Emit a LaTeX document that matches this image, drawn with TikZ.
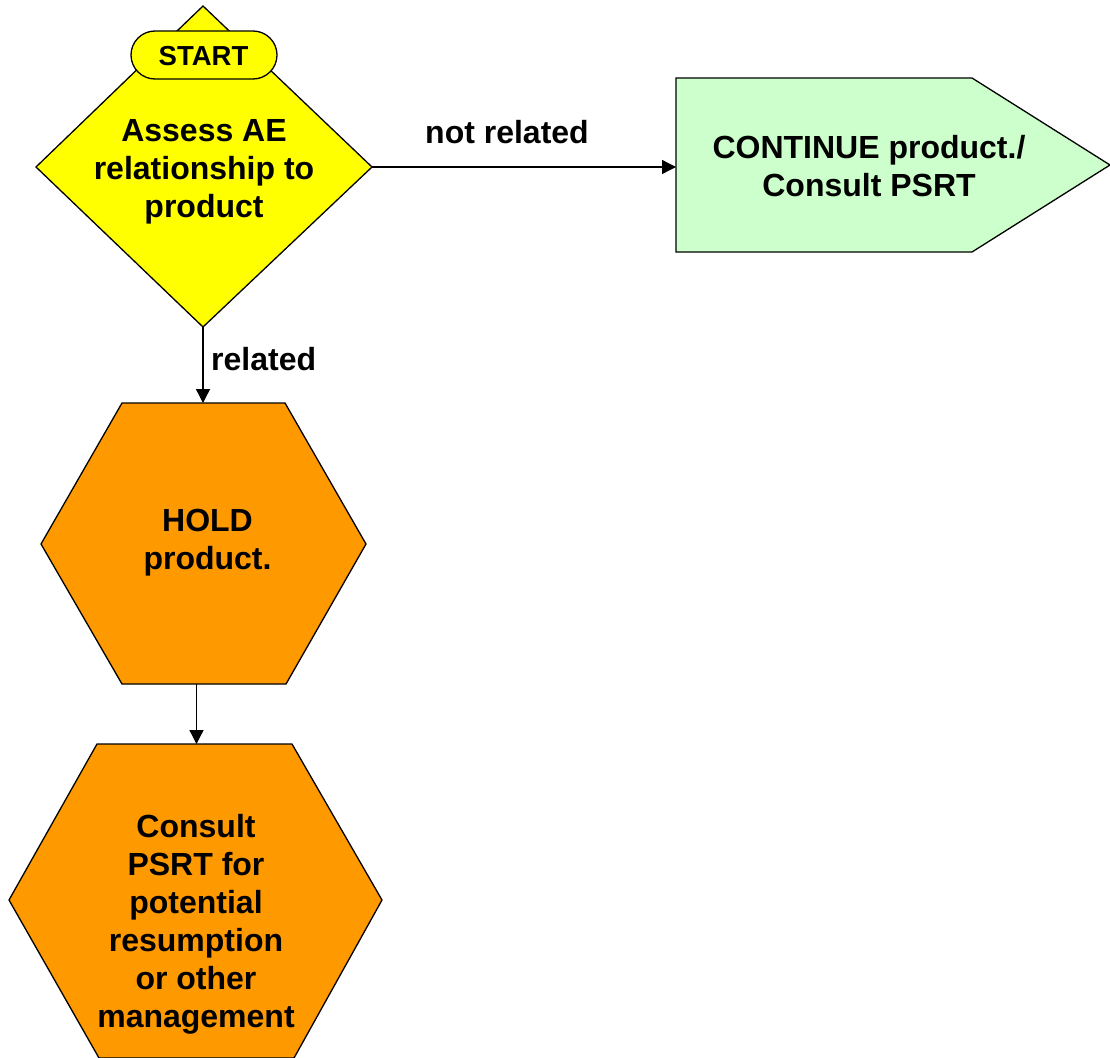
\documentclass[tikz,border=0pt]{standalone}
\usepackage{fontspec}
\setmainfont{Liberation Sans}
\usetikzlibrary{arrows.meta}
\definecolor{dyellow}{HTML}{FFFF00}
\definecolor{dgreen}{HTML}{CCFFCC}
\definecolor{dorange}{HTML}{FF9900}
\tikzset{
  shapeline/.style={draw=black, line width=1.3pt, line join=miter},
  arr/.style={draw=black, line width=1.3pt, -{Triangle[length=14pt,width=14pt]}},
  txt/.style={font=\fontsize{32}{38}\selectfont\bfseries, align=center, inner sep=0pt},
  lbl/.style={font=\fontsize{32}{38}\selectfont\bfseries, inner sep=0pt},
  pill/.style={draw=black, line width=1.3pt, fill=dyellow, rounded corners=24pt,
    minimum width=146pt, minimum height=48pt, inner sep=0pt}
}
\begin{document}
\begin{tikzpicture}[x=1pt,y=-1pt]
\useasboundingbox (0,0) rectangle (1110,1057);
\clip (0,0) rectangle (1110,1057);
\fill[white] (0,0) rectangle (1110,1057);
% diamond
\coordinate (dT) at (203,6);
\coordinate (dR) at (372,167);
\coordinate (dB) at (203,327);
\coordinate (dL) at (36,167);
\filldraw[shapeline, fill=dyellow] (dT) -- (dR) -- (dB) -- (dL) -- cycle;
\node[txt] (assess) at (204,171.5) {Assess AE\\relationship to\\product};
\node[pill] (start) at (204,55) {};
\node[font=\fontsize{27.5}{30}\selectfont\bfseries, inner sep=0pt, anchor=base] (starttxt) at (203.5,65) {START};
% pentagon
\coordinate (pL) at (676,167);
\coordinate (p1) at (676,78);
\coordinate (p2) at (972,78);
\coordinate (p3) at (1110,165);
\coordinate (p4) at (972,252);
\coordinate (p5) at (676,252);
\filldraw[shapeline, fill=dgreen] (p1) -- (p2) -- (p3) -- (p4) -- (p5) -- cycle;
\node[txt] (cont) at (869,166) {CONTINUE product./\\Consult PSRT};
% hexagon 1
\coordinate (h1a) at (122,403);
\coordinate (h1b) at (285,403);
\coordinate (h1c) at (366,544);
\coordinate (h1d) at (286,684);
\coordinate (h1e) at (122,684);
\coordinate (h1f) at (41,544);
\coordinate (h1top) at (203,403);
\coordinate (h1bot) at (196.5,684);
\filldraw[shapeline, fill=dorange] (h1a) -- (h1b) -- (h1c) -- (h1d) -- (h1e) -- (h1f) -- cycle;
\node[txt] (hold) at (207.5,543) {HOLD\\product.};
% hexagon 2
\coordinate (h2a) at (97,744);
\coordinate (h2b) at (292,744);
\coordinate (h2c) at (382,900);
\coordinate (h2d) at (294,1058);
\coordinate (h2e) at (99,1058);
\coordinate (h2f) at (9,900);
\coordinate (h2top) at (196.5,744);
\filldraw[shapeline, fill=dorange] (h2a) -- (h2b) -- (h2c) -- (h2d) -- (h2e) -- (h2f) -- cycle;
\node[txt] (consult) at (196,924.5) {Consult\\PSRT for\\potential\\resumption\\or other\\management};
% connectors
\draw[arr] (dR) -- (pL);
\draw[arr] (dB) -- (h1top);
\draw[arr] (h1bot) -- (h2top);
\node[lbl, anchor=base] (notrel) at (507,143) {not related};
\node[lbl, anchor=base west] (rel) at (211,370) {related};
\end{tikzpicture}
\end{document}
